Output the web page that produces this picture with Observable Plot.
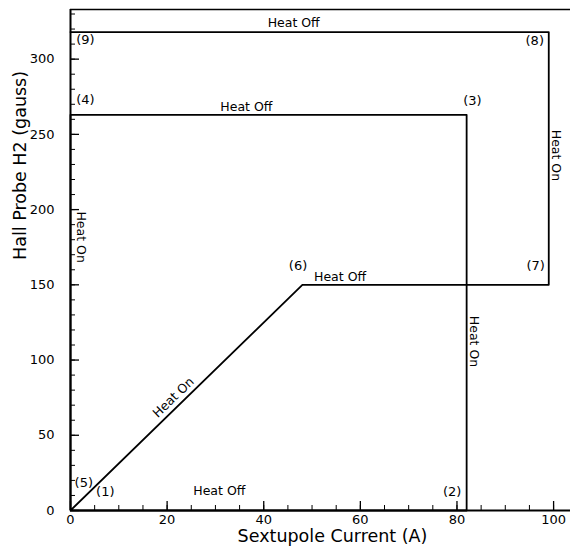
<!DOCTYPE html>
<html>
<head>
<meta charset="utf-8">
<script src="https://cdn.jsdelivr.net/npm/d3@7"></script>
<script src="https://cdn.jsdelivr.net/npm/@observablehq/plot@0.6"></script>
<style>
  html, body { margin: 0; padding: 0; background: #fff; }
  #chart svg { display: block; }
</style>
</head>
<body>
<div id="chart"></div>
<script>
// Path of the cycle (Sextupole current A, Hall probe gauss)
const pathX = [0, 82, 82, 0, 0, 48, 99, 99, 0];
const pathY = [0, 0, 263, 263, 0, 150, 150, 318, 318];

// Point labels
const ptLabels = ["(1)", "(2)", "(3)", "(4)", "(5)", "(6)", "(7)", "(8)", "(9)"];
const ptX = [7.2, 79.0, 83.2, 3.1, 2.75, 47.1, 96.3, 96.1, 3.1];
const ptY = [12.6, 12.6, 272.5, 273, 18.2, 162.8, 162.8, 312.4, 312.8];

// Segment annotations
const annText = ["Heat Off", "Heat Off", "Heat Off", "Heat Off", "Heat On", "Heat On", "Heat On", "Heat On"];
const annX = [30.8, 46.2, 36.4, 55.8, 100.4, 83.6, 2.07, 21.3];
const annY = [12.8, 324.3, 268.5, 155.1, 236, 112.3, 181.7, 75.1];
const annRot = [0, 0, 0, 0, 90, 90, 90, -44];

const xMajor = [0, 20, 40, 60, 80, 100];
const xMinor = d3.range(0, 105, 5);
const yMajor = [0, 50, 100, 150, 200, 250, 300];
const yMinor = d3.range(0, 340, 10);

const xDomain = [0, 103.5];
const yDomain = [0, 333];

const W = 570, H = 552, mL = 70, mR = 0, mT = 9, mB = 42;
const plotW = W - mL - mR, plotH = H - mT - mB;

const path = pathX.map((x, i) => ({x, y: pathY[i]}));
const pts = ptLabels.map((t, i) => ({t, x: ptX[i], y: ptY[i]}));
const anns = annText.map((t, i) => ({t, x: annX[i], y: annY[i], r: annRot[i]}));

const font = "DejaVu Sans, sans-serif";

const chart = Plot.plot({
  width: W, height: H,
  marginLeft: mL, marginRight: mR, marginTop: mT, marginBottom: mB,
  style: {fontFamily: font, fontSize: "13px", color: "#000", background: "#fff"},
  x: {domain: xDomain},
  y: {domain: yDomain},
  marks: [
    // inward ticks
    Plot.ruleX(xMajor, {x: d => d, insetTop: plotH - 9, stroke: "#000", strokeWidth: 1.3}),
    Plot.ruleX(xMinor, {x: d => d, insetTop: plotH - 5, stroke: "#000", strokeWidth: 1}),
    Plot.ruleY(yMajor, {y: d => d, insetRight: plotW - 9, stroke: "#000", strokeWidth: 1.3}),
    Plot.ruleY(yMinor, {y: d => d, insetRight: plotW - 5, stroke: "#000", strokeWidth: 1}),
    // tick labels and titles
    Plot.axisX(xMajor, {tickSize: 0, tickPadding: 4, fontSize: 13, label: null}),
    Plot.axisY(yMajor, {tickSize: 0, tickPadding: 16, fontSize: 13, label: null}),
    Plot.text(["Sextupole Current (A)"], {frameAnchor: "bottom", text: d => d, dy: 31, dx: 12, fontSize: 17.5}),
    Plot.text(["Hall Probe H2 (gauss)"], {frameAnchor: "left", text: d => d, dx: -50, dy: 0, rotate: -90, fontSize: 17.5}),
    // frame lines
    Plot.ruleX([0], {stroke: "#000", strokeWidth: 2}),
    Plot.ruleY([0], {stroke: "#000", strokeWidth: 2}),
    Plot.ruleY([yDomain[1]], {stroke: "#000", strokeWidth: 1.3}),
    // data path
    Plot.line(path, {x: "x", y: "y", stroke: "#000", strokeWidth: 1.8}),
    // labels
    Plot.text(pts, {x: "x", y: "y", text: "t", fontSize: 13}),
    Plot.text(anns, {x: "x", y: "y", text: "t", rotate: "r", fontSize: 12.5})
  ]
});

document.getElementById("chart").appendChild(chart);
</script>
</body>
</html>
